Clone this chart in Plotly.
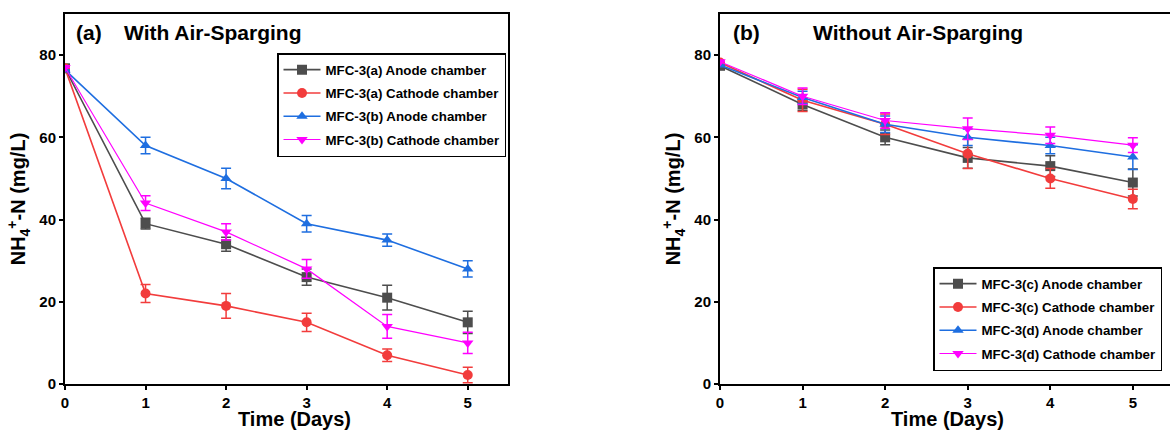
import plotly.graph_objects as go

days = [0, 1, 2, 3, 4, 5]

# Panel (a) With Air-Sparging
a_names = ["MFC-3(a) Anode chamber", "MFC-3(a) Cathode chamber",
           "MFC-3(b) Anode chamber", "MFC-3(b) Cathode chamber"]
a_anode_a = [76.8, 39, 34, 26, 21, 15]
a_anode_a_err = [0, 1.3, 1.7, 2, 3, 2.7]
a_cath_a = [76.8, 22, 19, 15, 7, 2.2]
a_cath_a_err = [0, 2.2, 3, 2.2, 1.5, 1.9]
a_anode_b = [76.4, 58, 50, 39, 35, 28]
a_anode_b_err = [0, 2, 2.5, 2, 1.5, 2]
a_cath_b = [77, 44, 37, 28, 14, 10]
a_cath_b_err = [0, 1.8, 2, 2.3, 2.9, 2.6]

# Panel (b) Without Air-Sparging
b_names = ["MFC-3(c) Anode chamber", "MFC-3(c) Cathode chamber",
           "MFC-3(d) Anode chamber", "MFC-3(d) Cathode chamber"]
b_anode_c = [77.4, 68, 60, 55, 53, 49]
b_anode_c_err = [0, 1.5, 1.8, 2.5, 2.5, 3.3]
b_cath_c = [78.2, 69, 63.2, 56, 50, 45]
b_cath_c_err = [0, 2.7, 2.5, 3.6, 2.4, 2.4]
b_anode_d = [77.6, 69.7, 63.2, 60, 58, 55.2]
b_anode_d_err = [0, 1.5, 2, 2, 2, 3]
b_cath_d = [78.4, 70, 64.1, 62.1, 60.5, 58.1]
b_cath_d_err = [0, 2, 1.9, 2.6, 2, 1.8]

colors = ["#4d4d4d", "#f23c3c", "#1e6ee0", "#ff00ff"]
symbols = ["square", "circle", "triangle-up", "triangle-down"]
lwidths = [1.6, 1.6, 1.6, 1.2]

FONT = "Arial, Liberation Sans, sans-serif"

fig = go.Figure()

def add_series(xa, ya, leg, name, y, err, i, grp):
    fig.add_trace(go.Scatter(
        x=days, y=y, name=name, mode="lines+markers",
        xaxis=xa, yaxis=ya, legend=leg, legendgroup=grp,
        line=dict(color=colors[i], width=lwidths[i]),
        marker=dict(symbol=symbols[i], size=10, color=colors[i]),
        error_y=dict(type="data", array=err, visible=True,
                     color=colors[i], thickness=1.5, width=5),
    ))

a_data = [(a_anode_a, a_anode_a_err), (a_cath_a, a_cath_a_err),
          (a_anode_b, a_anode_b_err), (a_cath_b, a_cath_b_err)]
b_data = [(b_anode_c, b_anode_c_err), (b_cath_c, b_cath_c_err),
          (b_anode_d, b_anode_d_err), (b_cath_d, b_cath_d_err)]

for i, (y, e) in enumerate(a_data):
    add_series("x", "y", "legend", a_names[i], y, e, i, "a%d" % i)
for i, (y, e) in enumerate(b_data):
    add_series("x2", "y2", "legend2", b_names[i], y, e, i, "b%d" % i)

ydom = [1 - 384 / 432, 1 - 14 / 432]
axis_common = dict(
    showline=True, linewidth=2, linecolor="black", mirror=True,
    ticks="outside", ticklen=4, tickwidth=2, tickcolor="black",
    showgrid=False, zeroline=False, automargin=False,
    tickfont=dict(family=FONT, size=15, color="black", weight="bold"),
)
ytitle = "NH<sub>4</sub><sup>+</sup>-N (mg/L)"
xtitle_font = dict(family=FONT, size=20, color="black", weight="bold")
ytitle_font = dict(family=FONT, size=20, color="black", weight="bold")
ann_font = dict(family=FONT, size=21, color="black", weight="bold")
leg_font = dict(family=FONT, size=13.3, color="black", weight="bold")

xdom1 = [65 / 1170, 508 / 1170]
xdom2 = [720 / 1170, 1.0]

fig.update_layout(
    width=1170, height=432,
    margin=dict(l=0, r=0, t=0, b=0),
    paper_bgcolor="white", plot_bgcolor="white",
    font=dict(family=FONT, color="black"),
    xaxis=dict(domain=xdom1, range=[0, 5.5], tickvals=days, **axis_common),
    yaxis=dict(domain=ydom, range=[0, 90], tickvals=[0, 20, 40, 60, 80],
               title=dict(text=ytitle, font=ytitle_font, standoff=8),
               **axis_common),
    xaxis2=dict(domain=xdom2, range=[0, 5.45], anchor="y2", tickvals=days, **axis_common),
    yaxis2=dict(domain=ydom, range=[0, 90], anchor="x2", tickvals=[0, 20, 40, 60, 80],
                title=dict(text=ytitle, font=ytitle_font, standoff=8),
                **axis_common),
    legend=dict(x=277 / 1170, y=1 - 53 / 432, xanchor="left", yanchor="top",
                bordercolor="black", borderwidth=1.5, bgcolor="white",
                font=leg_font, itemwidth=37, traceorder="grouped", tracegroupgap=3),
    legend2=dict(x=933 / 1170, y=1 - 267 / 432, xanchor="left", yanchor="top",
                 bordercolor="black", borderwidth=1.5, bgcolor="white",
                 font=leg_font, itemwidth=37, traceorder="grouped", tracegroupgap=3),
    annotations=[
        dict(text="Time (Days)", x=(65 + 508) / 2 / 1170 + 8 / 1170, y=0,
             xref="paper", yref="paper", xanchor="center", yanchor="bottom",
             showarrow=False, font=xtitle_font),
        dict(text="Time (Days)", x=(720 + 1174) / 2 / 1170, y=0,
             xref="paper", yref="paper", xanchor="center", yanchor="bottom",
             showarrow=False, font=xtitle_font),
        dict(text="(a)", x=74 / 1170, y=1 - 33 / 432, xref="paper", yref="paper",
             xanchor="left", yanchor="middle", showarrow=False, font=ann_font),
        dict(text="With Air-Sparging", x=122 / 1170, y=1 - 33 / 432, xref="paper", yref="paper",
             xanchor="left", yanchor="middle", showarrow=False, font=ann_font),
        dict(text="(b)", x=731 / 1170, y=1 - 33 / 432, xref="paper", yref="paper",
             xanchor="left", yanchor="middle", showarrow=False, font=ann_font),
        dict(text="Without Air-Sparging", x=811 / 1170, y=1 - 33 / 432, xref="paper", yref="paper",
             xanchor="left", yanchor="middle", showarrow=False, font=ann_font),
    ],
)

fig.write_html("out.html")
